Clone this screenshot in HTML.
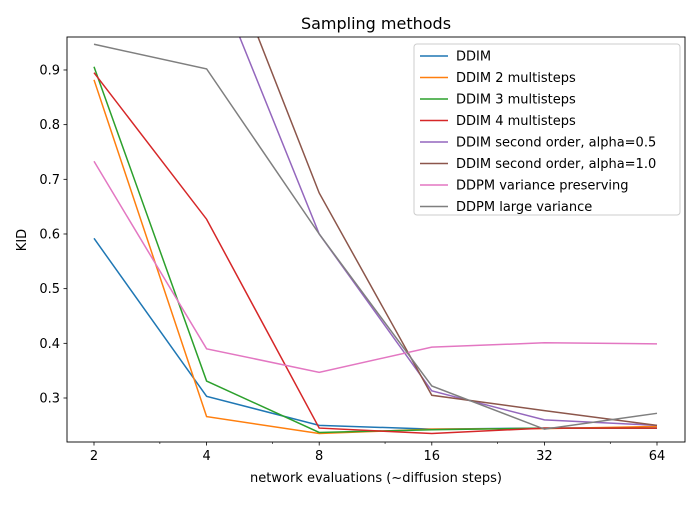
<!DOCTYPE html>
<html><head><meta charset="utf-8"><style>
body{margin:0;background:#fff;}
svg text{font-family:"DejaVu Sans","Liberation Sans",sans-serif;fill:#000;}
</style></head><body>
<svg id="chart" width="700" height="500" xmlns="http://www.w3.org/2000/svg">
<rect width="700" height="500" fill="#fff"/>
<text x="376" y="29" font-size="16" text-anchor="middle">Sampling methods</text>
<g id="plot"></g>
<rect x="67" y="37" width="618" height="405" fill="none" stroke="#000" stroke-width="0.9"/>
<g id="ticks"></g>
<text x="376" y="482" font-size="13" text-anchor="middle">network evaluations (~diffusion steps)</text>
<text x="26" y="240" font-size="13" text-anchor="middle" transform="rotate(-90 26 240)">KID</text>
<g id="legend"></g>
</svg>
<script>
const steps=[2,4,8,16,32,64];
const seriesNames=["DDIM","DDIM 2 multisteps","DDIM 3 multisteps","DDIM 4 multisteps","DDIM second order, alpha=0.5","DDIM second order, alpha=1.0","DDPM variance preserving","DDPM large variance"];
const ddim=[0.592,0.303,0.250,0.243,0.245,0.245];
const ddim2=[0.882,0.266,0.235,0.243,0.244,0.248];
const ddim3=[0.906,0.331,0.237,0.242,0.245,0.245];
const ddim4=[0.895,0.627,0.245,0.235,0.245,0.245];
const second05=[1.5,1.11,0.600,0.313,0.260,0.250];
const second10=[1.6,1.20,0.675,0.305,0.277,0.250];
const ddpmVP=[0.733,0.390,0.347,0.393,0.401,0.399];
const ddpmLarge=[0.947,0.902,0.600,0.322,0.243,0.272];
const yTicks=[0.3,0.4,0.5,0.6,0.7,0.8,0.9];
const xTicks=[2,4,8,16,32,64];
const xMinor=[3,6,12,24,48];
const allSeries=[ddim,ddim2,ddim3,ddim4,second05,second10,ddpmVP,ddpmLarge];
const colors=["#1f77b4","#ff7f0e","#2ca02c","#d62728","#9467bd","#8c564b","#e377c2","#7f7f7f"];
const NS="http://www.w3.org/2000/svg";
const X=v=>94+112.6*Math.log2(v/2);
const Y=v=>398-(v-0.3)*546.7;
function mk(t,a,p){const e=document.createElementNS(NS,t);for(const k in a)e.setAttribute(k,a[k]);p.appendChild(e);return e;}
const plot=document.getElementById('plot');
mk('clipPath',{id:'clip'},plot);
mk('rect',{x:67,y:37,width:618,height:405},document.getElementById('clip'));
const lg=mk('g',{'clip-path':'url(#clip)'},plot);
allSeries.forEach((s,i)=>{
 const p=mk('polyline',{points:s.map((v,j)=>X(steps[j])+','+Y(v)).join(' '),fill:'none',stroke:colors[i],'stroke-width':1.5},lg);
 
 
});
const tk=document.getElementById('ticks');
xTicks.forEach(v=>{
 const l=mk('line',{x1:X(v),x2:X(v),y1:442,y2:445.5,stroke:'#000','stroke-width':0.8},tk);
 
 
 const t=mk('text',{x:X(v),y:460,'font-size':13,'text-anchor':'middle'},tk);t.textContent=v;
 
 
});
xMinor.forEach(v=>{
 const l=mk('line',{x1:X(v),x2:X(v),y1:442,y2:444,stroke:'#000','stroke-width':0.6},tk);
 
 
});
yTicks.forEach(v=>{
 const l=mk('line',{x1:63.5,x2:67,y1:Y(v),y2:Y(v),stroke:'#000','stroke-width':0.8},tk);
 
 
 const t=mk('text',{x:60,y:Y(v)+4.5,'font-size':13,'text-anchor':'end'},tk);t.textContent=v.toFixed(1);
 
 
});
const leg=document.getElementById('legend');
const box=mk('rect',{x:414,y:44,width:266,height:171,rx:3,fill:'#fff','fill-opacity':0.8,stroke:'#ccc'},leg);


seriesNames.forEach((n,i)=>{
 const y=56+i*21.5;
 const g=mk('g',{},leg);
 
 
 mk('line',{x1:420,x2:448,y1:y,y2:y,stroke:colors[i],'stroke-width':1.5},g);
 const t=mk('text',{x:456,y:y+4.5,'font-size':13},g);t.textContent=n;
});
</script>
</body></html>
